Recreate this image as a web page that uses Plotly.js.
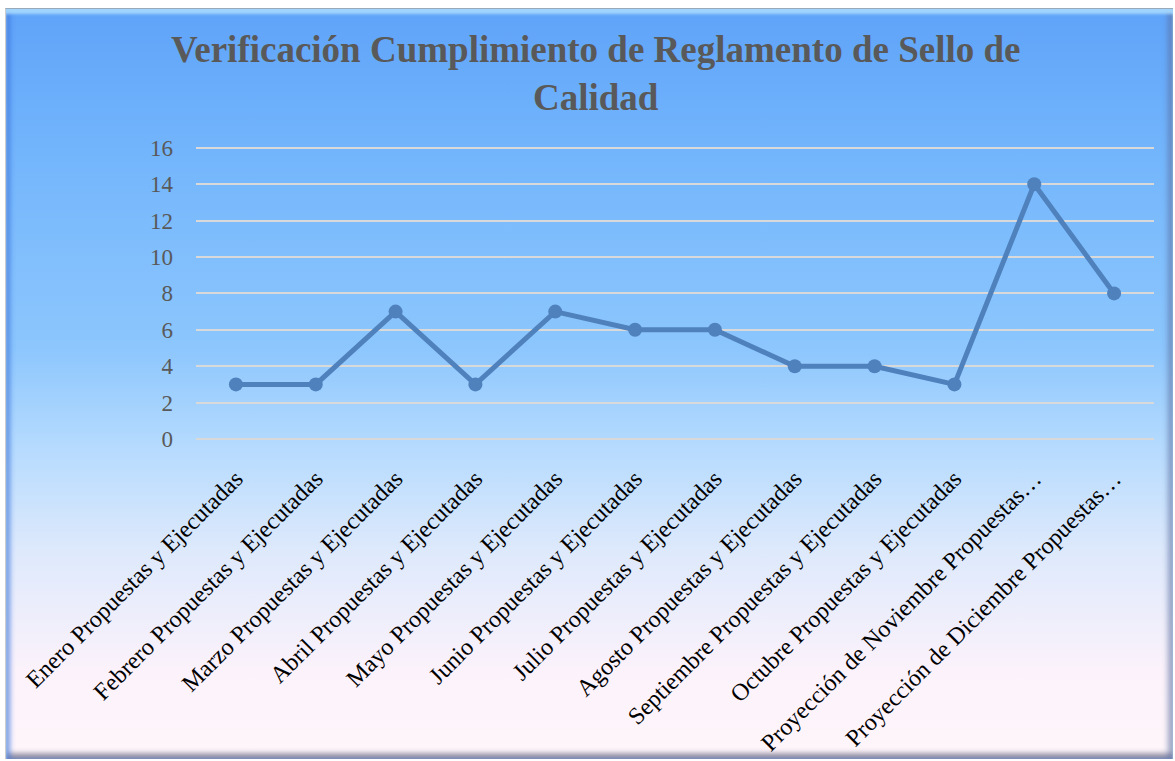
<!DOCTYPE html>
<html>
<head>
<meta charset="utf-8">
<script src="https://cdn.plot.ly/plotly-3.0.1.min.js"></script>
<style>
html,body{margin:0;padding:0;background:#fff;}
#outer{position:relative;width:1175px;height:761px;overflow:hidden;background:#fff;}
#frame{position:absolute;left:5px;top:8px;width:1167px;height:750px;
 background:linear-gradient(to bottom,#5fa3f9 0%,#74b6fc 20%,#8cc6fd 45%,#b4dafe 58%,#dde9fc 72%,#fbf2fb 88%,#fff6fb 100%);
 box-shadow: inset 0 5px 3px rgba(170,220,255,0.9), inset 5px 0 4px rgba(60,120,230,0.5), inset -6px 0 5px rgba(90,110,160,0.45), inset 0 -6px 5px rgba(90,90,120,0.6);
 border-top:1px solid #9ab;border-left:1px solid #ccc;}
#chart{position:absolute;left:0;top:0;width:1175px;height:761px;}
</style>
</head>
<body>
<div id="outer"><div id="frame"></div><div id="chart"></div></div>
<script>
const categories = [
 "Enero Propuestas y Ejecutadas",
 "Febrero Propuestas y Ejecutadas",
 "Marzo Propuestas y Ejecutadas",
 "Abril Propuestas y Ejecutadas",
 "Mayo Propuestas y Ejecutadas",
 "Junio Propuestas y Ejecutadas",
 "Julio Propuestas y Ejecutadas",
 "Agosto Propuestas y Ejecutadas",
 "Septiembre Propuestas y Ejecutadas",
 "Octubre Propuestas y Ejecutadas",
 "Proyección de Noviembre Propuestas…",
 "Proyección de Diciembre Propuestas…"
];
const values = [3, 3, 7, 3, 7, 6, 6, 4, 4, 3, 14, 8];
const yTicks = [0, 2, 4, 6, 8, 10, 12, 14, 16];

const trace = {
 x: categories, y: values, type: 'scatter', mode: 'lines+markers',
 line: {color: '#4f81bd', width: 5},
 marker: {color: '#4f81bd', size: 14},
 hoverinfo: 'x+y'
};
const layout = {
 width: 1175, height: 761,
 paper_bgcolor: 'rgba(0,0,0,0)', plot_bgcolor: 'rgba(0,0,0,0)',
 margin: {l: 196, r: 21, t: 146, b: 322},
 showlegend: false,
 font: {family: '"Liberation Serif", "Times New Roman", serif', color: '#595959'},
 title: {text: 'Verificación Cumplimiento de Reglamento de Sello de<br>Calidad',
  font: {family: '"Liberation Serif", "Times New Roman", serif', size: 37, color: '#595959', weight: 'bold'},
  x: 0.507, xanchor: 'center', y: 0.9185, yanchor: 'top'},
 xaxis: {type: 'category', tickangle: -45, showgrid: false, zeroline: false, showline: false,
  ticks: '', tickfont: {size: 24, color: '#000000'}, ticklabelstandoff: 20, automargin: false,
  range: [-0.5, 11.5], fixedrange: true},
 yaxis: {range: [0, 16.1], tickvals: yTicks, showgrid: true, gridcolor: '#d9d9d9', gridwidth: 2,
  zeroline: true, zerolinecolor: '#d9d9d9', zerolinewidth: 2, showline: false, ticks: '',
  tickfont: {size: 23, color: '#595959'}, ticklabelstandoff: 22, automargin: false, fixedrange: true}
};
Plotly.newPlot('chart', [trace], layout, {displayModeBar: false, staticPlot: true});
</script>
</body>
</html>
